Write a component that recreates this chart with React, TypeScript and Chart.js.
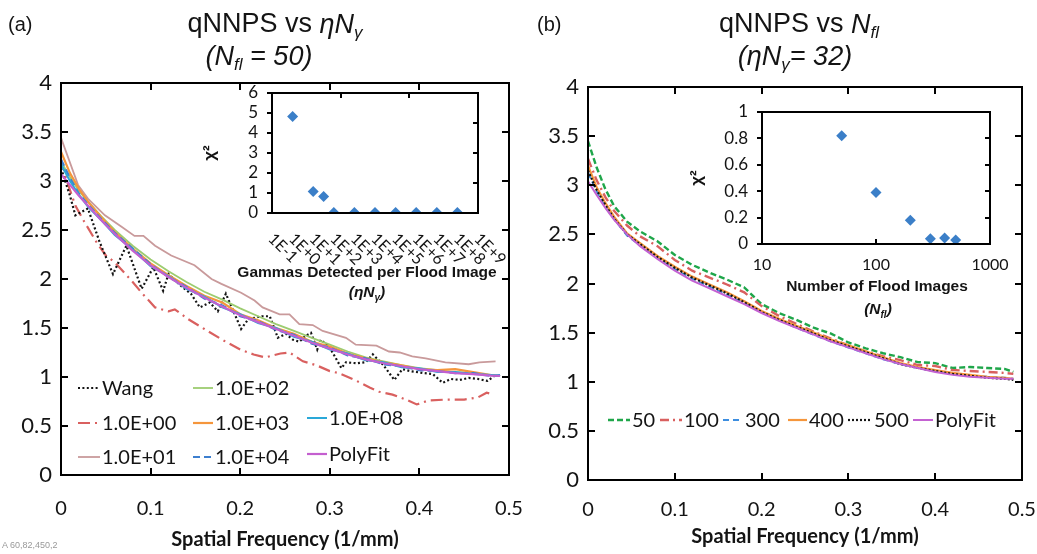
import React, { useEffect, useRef, useState } from 'react';
import { Chart, registerables } from 'chart.js';

Chart.register(...registerables);

// ---------------- Panel (a) data ----------------
const gridX = [0, 0.01, 0.02, 0.03, 0.045, 0.06, 0.08, 0.1, 0.12, 0.14, 0.16, 0.18, 0.2, 0.22, 0.24, 0.26, 0.28, 0.3, 0.32, 0.34, 0.36, 0.38, 0.4, 0.42, 0.44, 0.46, 0.48, 0.49];
const xTicks = [0, 0.1, 0.2, 0.3, 0.4, 0.5];

const wangX = [0, 0.01, 0.016, 0.03, 0.043, 0.058, 0.073, 0.09, 0.103, 0.114, 0.12, 0.134, 0.145, 0.155, 0.166, 0.175, 0.184, 0.201, 0.209, 0.224, 0.233, 0.242, 0.251, 0.259, 0.266, 0.273, 0.279, 0.286, 0.29, 0.3, 0.313, 0.318, 0.33, 0.34, 0.348, 0.36, 0.372, 0.381, 0.39, 0.405, 0.415, 0.426, 0.435, 0.445, 0.455, 0.465, 0.476, 0.485];
const wangY = [3.13, 2.85, 2.65, 2.72, 2.38, 2.05, 2.34, 1.9, 2.12, 1.88, 2.05, 1.93, 1.85, 1.71, 1.76, 1.67, 1.85, 1.49, 1.59, 1.62, 1.62, 1.4, 1.44, 1.38, 1.36, 1.42, 1.45, 1.28, 1.38, 1.3, 1.09, 1.15, 1.14, 1.15, 1.23, 1.12, 0.97, 1.08, 1.06, 1.04, 1.03, 0.94, 0.98, 0.97, 0.99, 0.98, 0.96, 1.02];

const e00X = [0, 0.008, 0.016, 0.025, 0.04, 0.05, 0.06, 0.08, 0.09, 0.105, 0.12, 0.127, 0.142, 0.16, 0.18, 0.2, 0.215, 0.228, 0.245, 0.255, 0.27, 0.285, 0.3, 0.31, 0.33, 0.345, 0.355, 0.37, 0.385, 0.397, 0.41, 0.43, 0.45, 0.465, 0.475, 0.483];
const e00Y = [3.22, 2.96, 2.75, 2.6, 2.37, 2.24, 2.17, 1.97, 1.86, 1.71, 1.67, 1.69, 1.59, 1.49, 1.38, 1.28, 1.23, 1.2, 1.24, 1.25, 1.16, 1.12, 1.06, 1.04, 0.96, 0.89, 0.85, 0.82, 0.77, 0.72, 0.76, 0.77, 0.77, 0.79, 0.84, 0.82];

const e01X = [0, 0.019, 0.03, 0.049, 0.068, 0.082, 0.092, 0.105, 0.123, 0.149, 0.168, 0.179, 0.201, 0.216, 0.225, 0.244, 0.255, 0.266, 0.281, 0.292, 0.318, 0.329, 0.352, 0.366, 0.378, 0.392, 0.407, 0.429, 0.455, 0.467, 0.485];
const e01Y = [3.44, 2.96, 2.82, 2.65, 2.53, 2.44, 2.44, 2.34, 2.24, 2.14, 2.0, 1.95, 1.86, 1.78, 1.71, 1.64, 1.64, 1.54, 1.53, 1.47, 1.4, 1.33, 1.32, 1.26, 1.25, 1.21, 1.19, 1.15, 1.13, 1.15, 1.16];

const e02Y = [3.2, 3.04, 2.9, 2.79, 2.64, 2.5, 2.34, 2.2, 2.08, 1.97, 1.87, 1.79, 1.7, 1.62, 1.54, 1.47, 1.4, 1.33, 1.26, 1.2, 1.16, 1.12, 1.09, 1.07, 1.05, 1.04, 1.02, 1.01];
const e03Y = [3.3, 3.08, 2.92, 2.79, 2.63, 2.48, 2.31, 2.16, 2.04, 1.93, 1.83, 1.76, 1.64, 1.58, 1.5, 1.44, 1.36, 1.31, 1.24, 1.19, 1.15, 1.12, 1.08, 1.07, 1.08, 1.05, 1.02, 1.01];
const e04Y = [3.22, 3.03, 2.87, 2.76, 2.61, 2.47, 2.31, 2.15, 2.02, 1.92, 1.8, 1.73, 1.62, 1.57, 1.48, 1.43, 1.34, 1.3, 1.22, 1.19, 1.13, 1.11, 1.07, 1.06, 1.04, 1.04, 1.01, 1.02];
const e08Y = [3.17, 3.0, 2.86, 2.74, 2.6, 2.45, 2.3, 2.13, 2.03, 1.9, 1.82, 1.71, 1.64, 1.55, 1.5, 1.41, 1.36, 1.28, 1.24, 1.17, 1.15, 1.1, 1.09, 1.05, 1.05, 1.03, 1.02, 1.01];
const polyAY = [3.07, 2.96, 2.85, 2.75, 2.6, 2.46, 2.29, 2.14, 2.02, 1.91, 1.81, 1.72, 1.63, 1.56, 1.49, 1.42, 1.35, 1.29, 1.23, 1.18, 1.14, 1.11, 1.08, 1.06, 1.04, 1.03, 1.015, 1.01];

// ---------------- Panel (b) data ----------------
const n50Y = [3.45, 3.18, 2.96, 2.79, 2.63, 2.53, 2.43, 2.29, 2.19, 2.11, 2.04, 1.96, 1.79, 1.7, 1.63, 1.55, 1.49, 1.4, 1.34, 1.29, 1.25, 1.2, 1.19, 1.14, 1.15, 1.14, 1.13, 1.1];
const n100Y = [3.27, 3.05, 2.88, 2.74, 2.59, 2.48, 2.38, 2.24, 2.13, 2.06, 1.99, 1.91, 1.77, 1.67, 1.59, 1.51, 1.44, 1.37, 1.31, 1.26, 1.22, 1.17, 1.16, 1.12, 1.11, 1.1, 1.09, 1.08];
const n300Y = [3.13, 2.94, 2.78, 2.66, 2.49, 2.39, 2.27, 2.15, 2.05, 1.97, 1.89, 1.8, 1.71, 1.63, 1.55, 1.48, 1.41, 1.35, 1.29, 1.23, 1.18, 1.14, 1.11, 1.08, 1.06, 1.05, 1.04, 1.03];
const n400Y = [3.2, 2.98, 2.82, 2.68, 2.51, 2.41, 2.28, 2.17, 2.07, 1.99, 1.91, 1.82, 1.72, 1.64, 1.57, 1.5, 1.43, 1.37, 1.31, 1.25, 1.19, 1.15, 1.12, 1.09, 1.07, 1.05, 1.04, 1.03];
const n500Y = [3.15, 2.95, 2.8, 2.66, 2.5, 2.4, 2.27, 2.16, 2.06, 1.98, 1.9, 1.81, 1.71, 1.63, 1.56, 1.49, 1.42, 1.36, 1.3, 1.24, 1.18, 1.14, 1.11, 1.08, 1.06, 1.04, 1.03, 1.02];
const polyBY = [3.04, 2.9, 2.77, 2.65, 2.5, 2.38, 2.25, 2.13, 2.03, 1.95, 1.87, 1.79, 1.7, 1.62, 1.55, 1.48, 1.41, 1.35, 1.29, 1.23, 1.18, 1.14, 1.1, 1.07, 1.05, 1.04, 1.03, 1.03];

// ---------------- Insets ----------------
const insetAX = [1, 10, 32, 100, 1e3, 1e4, 1e5, 1e6, 1e7, 1e8];
const insetAY = [4.83, 1.07, 0.82, 0.03, 0.02, 0.02, 0.02, 0.02, 0.02, 0.02];
const insetATicks = [0.1, 1, 10, 100, 1e3, 1e4, 1e5, 1e6, 1e7, 1e8, 1e9];
const insetBX = [50, 100, 200, 300, 400, 500];
const insetBY = [0.82, 0.39, 0.18, 0.04, 0.045, 0.03];
const insetBTicks = [10, 100, 1000];

// ---------------- Styles ----------------
const TXT = '#141414';
const ST = {
  wang: { c: '#141414', d: [2, 2.4], w: 2.2 },
  e00: { c: '#d9605f', d: [12, 5, 2, 5], w: 2.2 },
  e01: { c: '#c99a9b', d: [], w: 1.8 },
  e02: { c: '#9ccc70', d: [], w: 1.8 },
  e03: { c: '#f5963c', d: [], w: 2.2 },
  e04: { c: '#3d7fcf', d: [7, 4], w: 2.2 },
  e08: { c: '#2aa8d8', d: [], w: 2 },
  polyA: { c: '#c45fcf', d: [], w: 2.2 },
  n50: { c: '#1fa64a', d: [6, 3], w: 2.4 },
  n100: { c: '#d9605f', d: [9, 4, 2, 4], w: 2.4 },
  n300: { c: '#3d8ee0', d: [6, 4], w: 2.2 },
  n400: { c: '#f5963c', d: [], w: 2.2 },
  n500: { c: '#141414', d: [2, 2], w: 2.2 },
  polyB: { c: '#c462d2', d: [], w: 2 },
};

const pts = (xs: number[], ys: number[]) => xs.map((x, i) => ({ x, y: ys[i] }));
const fmtNum = (v: any) => String(Math.round(Number(v) * 100) / 100);
const setTicks = (vals: number[]) => (s: any) => { s.ticks = vals.map((v) => ({ value: v })); };
const zeroPad = (s: any) => { s.paddingLeft = 0; s.paddingRight = 0; s.paddingTop = 0; s.paddingBottom = 0; };
const noGrid = { display: false, drawTicks: false, drawOnChartArea: false };
const noBorder = { display: false };

function lineDs(label: string, xs: number[], ys: number[], s: { c: string; d: number[]; w: number }) {
  return {
    label,
    data: pts(xs, ys),
    borderColor: s.c,
    backgroundColor: s.c,
    borderWidth: s.w,
    borderDash: s.d.slice(),
    borderCapStyle: 'butt',
    pointRadius: 0,
    tension: 0,
    fill: false,
  };
}

type Seg = { t: string; it?: boolean; sub?: boolean };
function drawRich(ctx: CanvasRenderingContext2D, segs: Seg[], cx: number, cy: number, size: number, bold = false, italicAll = false) {
  ctx.save();
  ctx.textBaseline = 'middle';
  ctx.textAlign = 'left';
  ctx.fillStyle = TXT;
  const sub = Math.round(size * 0.62);
  const f = (s: Seg) => `${s.it || italicAll ? 'italic ' : ''}${bold ? 'bold ' : ''}${s.sub ? sub : size}px "Liberation Sans", Arial, sans-serif`;
  let total = 0;
  for (const s of segs) { ctx.font = f(s); total += ctx.measureText(s.t).width; }
  let x = cx - total / 2;
  for (const s of segs) {
    ctx.font = f(s);
    ctx.fillText(s.t, x, cy + (s.sub ? size * 0.32 : 0));
    x += ctx.measureText(s.t).width;
  }
  ctx.restore();
}

type LegItem = { text: string; s: { c: string; d: number[]; w: number }; x: number; y: number; len: number };
function drawLegend(ctx: CanvasRenderingContext2D, items: LegItem[], offX: number) {
  ctx.save();
  ctx.font = '20px Lato, "Open Sans", sans-serif';
  ctx.textBaseline = 'middle';
  ctx.textAlign = 'left';
  for (const it of items) {
    ctx.save();
    ctx.strokeStyle = it.s.c;
    ctx.lineWidth = it.s.w;
    ctx.setLineDash(it.s.d);
    ctx.beginPath();
    ctx.moveTo(it.x - offX, it.y);
    ctx.lineTo(it.x + it.len - offX, it.y);
    ctx.stroke();
    ctx.restore();
    ctx.fillStyle = TXT;
    ctx.fillText(it.text, it.x + it.len + 2 - offX, it.y + 1);
  }
  ctx.restore();
}

// ---- frame + tick marks, computed from each chart's own scales ----
type TickSpec = { side: 'left' | 'right' | 'top' | 'bottom'; at: number[]; len: number; out?: boolean; frac?: boolean };
type Rect = { l: number; t: number; w: number; h: number };
function frameRects(chart: any, specs: TickSpec[]): Rect[] {
  const a = chart.chartArea;
  const sx = chart.scales.x;
  const sy = chart.scales.y;
  const L = Math.round(a.left), R = Math.round(a.right);
  const T = Math.round(a.top), B = Math.round(a.bottom);
  const out: Rect[] = [
    { l: L - 1, t: T - 1, w: R - L + 2, h: 2 },
    { l: L - 1, t: B - 1, w: R - L + 2, h: 2 },
    { l: L - 1, t: T - 1, w: 2, h: B - T + 2 },
    { l: R - 1, t: T - 1, w: 2, h: B - T + 2 },
  ];
  for (const s of specs) {
    for (const v of s.at) {
      if (s.side === 'left' || s.side === 'right') {
        const y = Math.round(s.frac ? a.bottom - v * (a.bottom - a.top) : sy.getPixelForValue(v));
        const x0 = s.side === 'left' ? L : R;
        const inward = s.side === 'left' ? 1 : -1;
        const dir = s.out ? -inward : inward;
        out.push({ l: dir > 0 ? x0 : x0 - s.len, t: y - 1, w: s.len, h: 2 });
      } else {
        const x = Math.round(s.frac ? a.left + v * (a.right - a.left) : sx.getPixelForValue(v));
        const y0 = s.side === 'top' ? T : B;
        const inward = s.side === 'top' ? 1 : -1;
        const dir = s.out ? -inward : inward;
        out.push({ l: x - 1, t: dir > 0 ? y0 : y0 - s.len, w: 2, h: s.len });
      }
    }
  }
  return out;
}

// Plugin: white plot area first, then the frame rectangles on top of the datasets.
function framePlugin(specs: TickSpec[]) {
  return {
    id: 'frameMarks',
    beforeDatasetsDraw(chart: any) {
      const ctx: CanvasRenderingContext2D = chart.ctx;
      const a = chart.chartArea;
      ctx.save();
      ctx.fillStyle = '#ffffff';
      ctx.fillRect(a.left, a.top, a.right - a.left, a.bottom - a.top);
      ctx.restore();
    },
    afterDatasetsDraw(chart: any) {
      const ctx: CanvasRenderingContext2D = chart.ctx;
      ctx.save();
      ctx.globalAlpha = 1;
      ctx.fillStyle = 'rgb(0, 0, 0)';
      for (const r of frameRects(chart, specs)) ctx.fillRect(r.l, r.t, r.w, r.h);
      ctx.restore();
    },
  };
}

const yMainTicks = [0.5, 1, 1.5, 2, 2.5, 3, 3.5];
const xMainTicks = [0.1, 0.2, 0.3, 0.4];

function mainOptions(padTop: number, padRight: number, yWidth: number, xHeight: number, xPad: number, titlePadBottom: number) {
  return {
    animation: false,
    responsive: false,
    maintainAspectRatio: false,
    layout: { padding: { left: 0, top: padTop, right: padRight, bottom: 0 } },
    plugins: { legend: { display: false }, tooltip: { enabled: false }, title: { display: false } },
    scales: {
      x: {
        type: 'linear',
        position: 'bottom',
        min: 0,
        max: 0.5,
        afterBuildTicks: setTicks(xTicks),
        grid: noGrid,
        border: noBorder,
        ticks: { font: { family: 'Lato', size: 20 }, color: TXT, padding: xPad, maxRotation: 0, autoSkip: false, callback: fmtNum },
        title: {
          display: true,
          text: 'Spatial Frequency (1/mm)',
          color: TXT,
          font: { family: 'Lato', size: 20, weight: 'bold' },
          padding: { top: 0, bottom: titlePadBottom },
        },
        afterFit: (s: any) => { s.height = xHeight; zeroPad(s); },
      },
      y: {
        type: 'linear',
        position: 'left',
        min: 0,
        max: 4,
        grid: noGrid,
        border: noBorder,
        ticks: { stepSize: 0.5, autoSkip: false, font: { family: 'Lato', size: 22 }, color: TXT, padding: 9, callback: fmtNum },
        afterFit: (s: any) => { s.width = yWidth; zeroPad(s); },
      },
    },
  };
}

const mainSpecs: TickSpec[] = [
  { side: 'left', at: yMainTicks, len: 7 },
  { side: 'right', at: yMainTicks, len: 7 },
  { side: 'top', at: xMainTicks, len: 7 },
  { side: 'bottom', at: xMainTicks, len: 7 },
];
const insetASpecs: TickSpec[] = [
  { side: 'left', at: [0, 1, 2, 3, 4, 5, 6], len: 5, out: true },
  { side: 'right', at: [0.25, 0.5, 0.75], len: 5, frac: true },
  { side: 'top', at: [1 / 3, 2 / 3], len: 5, frac: true },
];
const insetBSpecs: TickSpec[] = [
  { side: 'left', at: [0, 0.2, 0.4, 0.6, 0.8, 1], len: 5, out: true },
  { side: 'right', at: [0.2, 0.4, 0.6, 0.8], len: 5 },
  { side: 'bottom', at: [100], len: 5 },
];

function configA() {
  const legend: LegItem[] = [
    { text: 'Wang', s: ST.wang, x: 78, y: 388, len: 22 },
    { text: '1.0E+00', s: ST.e00, x: 78, y: 423, len: 22 },
    { text: '1.0E+01', s: ST.e01, x: 78, y: 457, len: 22 },
    { text: '1.0E+02', s: ST.e02, x: 193, y: 388, len: 20 },
    { text: '1.0E+03', s: ST.e03, x: 193, y: 423, len: 20 },
    { text: '1.0E+04', s: ST.e04, x: 193, y: 457, len: 20 },
    { text: '1.0E+08', s: ST.e08, x: 307, y: 418, len: 20 },
    { text: 'PolyFit', s: ST.polyA, x: 307, y: 454, len: 20 },
  ];
  return {
    type: 'line',
    data: {
      datasets: [
        lineDs('PolyFit', gridX, polyAY, ST.polyA),
        lineDs('1.0E+08', gridX, e08Y, ST.e08),
        lineDs('1.0E+04', gridX, e04Y, ST.e04),
        lineDs('1.0E+03', gridX, e03Y, ST.e03),
        lineDs('1.0E+02', gridX, e02Y, ST.e02),
        lineDs('Wang', wangX, wangY, ST.wang),
        lineDs('1.0E+00', e00X, e00Y, ST.e00),
        lineDs('1.0E+01', e01X, e01Y, ST.e01),
      ],
    },
    options: mainOptions(83, 16, 61, 79, 22, 2),
    plugins: [
      framePlugin(mainSpecs),
      {
        id: 'decoA',
        afterDraw(chart: any) {
          const ctx = chart.ctx;
          drawLegend(ctx, legend, 0);
          ctx.save();
          ctx.fillStyle = TXT;
          ctx.font = '20px "Liberation Sans", Arial, sans-serif';
          ctx.textBaseline = 'middle';
          ctx.fillText('(a)', 8, 25);
          ctx.restore();
          drawRich(ctx, [{ t: 'qNNPS vs ' }, { t: 'ηN', it: true }, { t: 'γ', it: true, sub: true }], 275, 25, 27);
          drawRich(ctx, [{ t: '(N' }, { t: 'fl', sub: true }, { t: ' = 50)' }], 259, 57, 27, false, true);
        },
      },
    ],
  };
}

function configB() {
  const off = 525;
  const legend: LegItem[] = [
    { text: '50', s: ST.n50, x: 608, y: 420, len: 22 },
    { text: '100', s: ST.n100, x: 660, y: 420, len: 22 },
    { text: '300', s: ST.n300, x: 723, y: 420, len: 20 },
    { text: '400', s: ST.n400, x: 788, y: 420, len: 19 },
    { text: '500', s: ST.n500, x: 848, y: 420, len: 24 },
    { text: 'PolyFit', s: ST.polyB, x: 913, y: 420, len: 20 },
  ];
  return {
    type: 'line',
    data: {
      datasets: [
        lineDs('PolyFit', gridX, polyBY, ST.polyB),
        lineDs('500', gridX, n500Y, ST.n500),
        lineDs('400', gridX, n400Y, ST.n400),
        lineDs('300', gridX, n300Y, ST.n300),
        lineDs('100', gridX, n100Y, ST.n100),
        lineDs('50', gridX, n50Y, ST.n50),
      ],
    },
    options: mainOptions(87, 15, 63, 74, 18, 5),
    plugins: [
      framePlugin(mainSpecs),
      {
        id: 'decoB',
        afterDraw(chart: any) {
          const ctx = chart.ctx;
          drawLegend(ctx, legend, off);
          ctx.save();
          ctx.fillStyle = TXT;
          ctx.font = '20px "Liberation Sans", Arial, sans-serif';
          ctx.textBaseline = 'middle';
          ctx.fillText('(b)', 537 - off, 25);
          ctx.restore();
          drawRich(ctx, [{ t: 'qNNPS vs ' }, { t: 'N', it: true }, { t: 'fl', it: true, sub: true }], 799 - off, 25, 27);
          drawRich(ctx, [{ t: '(ηN' }, { t: 'γ', sub: true }, { t: '= 32)' }], 795 - off, 57, 27, false, true);
        },
      },
    ],
  };
}

const diamond = (xs: number[], ys: number[]) => ({
  data: pts(xs, ys),
  showLine: false,
  pointStyle: 'rectRot',
  pointRadius: 5.5,
  pointBackgroundColor: '#3b7fc8',
  pointBorderColor: '#3b7fc8',
  pointBorderWidth: 0,
});

const expLabel = (v: number) => {
  const k = Math.round(Math.log10(v));
  return '1E' + (k < 0 ? '-' : '+') + Math.abs(k);
};

const chiTitle = (pad: number) => ({
  display: true,
  text: 'χ²',
  color: TXT,
  font: { family: '"Liberation Sans", Arial', size: 17, weight: 'bold' },
  padding: { top: pad, bottom: 0 },
});

function configInsetA() {
  const offX = 190, offY = 80;
  return {
    type: 'scatter',
    data: { datasets: [diamond(insetAX, insetAY)] },
    options: {
      animation: false,
      responsive: false,
      maintainAspectRatio: false,
      layout: { padding: { left: 0, top: 13, right: 42, bottom: 0 } },
      plugins: { legend: { display: false }, tooltip: { enabled: false } },
      scales: {
        x: {
          type: 'logarithmic', position: 'bottom', min: 0.1, max: 1e9,
          afterBuildTicks: setTicks(insetATicks),
          grid: noGrid, border: noBorder, ticks: { display: false },
          afterFit: (s: any) => { s.height = 97; zeroPad(s); },
        },
        y: {
          type: 'linear', position: 'left', min: 0, max: 6,
          grid: noGrid, border: noBorder,
          ticks: { stepSize: 1, autoSkip: false, font: { family: 'Lato', size: 17 }, color: TXT, padding: 14, callback: fmtNum },
          title: chiTitle(10),
          afterFit: (s: any) => { s.width = 82; zeroPad(s); },
        },
      },
    },
    plugins: [
      framePlugin(insetASpecs),
      {
        id: 'decoIA',
        afterDraw(chart: any) {
          const ctx = chart.ctx;
          const a = chart.chartArea;
          ctx.save();
          ctx.fillStyle = TXT;
          ctx.font = '16px Lato, sans-serif';
          ctx.textAlign = 'left';
          ctx.textBaseline = 'middle';
          for (const v of insetATicks) {
            const px = chart.scales.x.getPixelForValue(v);
            ctx.save();
            ctx.translate(px - 1, a.bottom + 23);
            ctx.rotate(Math.PI / 4);
            ctx.fillText(expLabel(v), 0, 0);
            ctx.restore();
          }
          ctx.restore();
          ctx.save();
          ctx.fillStyle = TXT;
          ctx.font = 'bold 15.5px "Liberation Sans", Arial, sans-serif';
          ctx.textAlign = 'center';
          ctx.textBaseline = 'middle';
          ctx.fillText('Gammas Detected per Flood Image', 367 - offX, 273 - offY);
          ctx.restore();
          drawRich(ctx, [{ t: '(ηN' }, { t: 'γ', sub: true }, { t: ')' }], 367 - offX, 293 - offY, 15.5, true, true);
        },
      },
    ],
  };
}

function configInsetB() {
  const offX = 680, offY = 95;
  return {
    type: 'scatter',
    data: { datasets: [diamond(insetBX, insetBY)] },
    options: {
      animation: false,
      responsive: false,
      maintainAspectRatio: false,
      layout: { padding: { left: 0, top: 17, right: 30, bottom: 0 } },
      plugins: { legend: { display: false }, tooltip: { enabled: false } },
      scales: {
        x: {
          type: 'logarithmic', position: 'bottom', min: 10, max: 1000,
          afterBuildTicks: setTicks(insetBTicks),
          grid: noGrid, border: noBorder,
          ticks: { font: { family: 'Lato', size: 16 }, color: TXT, padding: 11, maxRotation: 0, autoSkip: false, callback: (v: any) => String(v) },
          afterFit: (s: any) => { s.height = 81; zeroPad(s); },
        },
        y: {
          type: 'linear', position: 'left', min: 0, max: 1,
          grid: noGrid, border: noBorder,
          ticks: { stepSize: 0.2, autoSkip: false, font: { family: 'Lato', size: 17 }, color: TXT, padding: 14, callback: fmtNum },
          title: chiTitle(7),
          afterFit: (s: any) => { s.width = 82; zeroPad(s); },
        },
      },
    },
    plugins: [
      framePlugin(insetBSpecs),
      {
        id: 'decoIB',
        afterDraw(chart: any) {
          const ctx = chart.ctx;
          ctx.save();
          ctx.fillStyle = TXT;
          ctx.font = 'bold 15.5px "Liberation Sans", Arial, sans-serif';
          ctx.textAlign = 'center';
          ctx.textBaseline = 'middle';
          ctx.fillText('Number of Flood Images', 877 - offX, 287 - offY);
          ctx.restore();
          drawRich(ctx, [{ t: '(N' }, { t: 'fl', sub: true }, { t: ')' }], 878 - offX, 310 - offY, 15.5, true, true);
        },
      },
    ],
  };
}

export default function App() {
  const aRef = useRef<HTMLCanvasElement>(null);
  const aiRef = useRef<HTMLCanvasElement>(null);
  const bRef = useRef<HTMLCanvasElement>(null);
  const biRef = useRef<HTMLCanvasElement>(null);
  const [dbg, setDbg] = useState('');

  useEffect(() => {
    const cA = new Chart(aRef.current as HTMLCanvasElement, configA() as any);
    const cAI = new Chart(aiRef.current as HTMLCanvasElement, configInsetA() as any);
    const cB = new Chart(bRef.current as HTMLCanvasElement, configB() as any);
    const cBI = new Chart(biRef.current as HTMLCanvasElement, configInsetB() as any);
    const r = frameRects(cA, mainSpecs)[0];
    setDbg(`A ${r.l},${r.t},${r.w},${r.h}`);
    return () => { cA.destroy(); cAI.destroy(); cB.destroy(); cBI.destroy(); };
  }, []);

  const abs = (l: number, t: number, w: number, h: number) => ({ position: 'absolute' as const, left: l, top: t, width: w, height: h });

  return (
    <div style={{ position: 'absolute', left: 0, top: 0, width: 1037, height: 554, background: '#fff', overflow: 'hidden' }}>
      <canvas ref={aRef} width={525} height={554} style={abs(0, 0, 525, 554)} />
      <canvas ref={aiRef} width={330} height={230} style={abs(190, 80, 330, 230)} />
      <canvas ref={bRef} width={512} height={554} style={abs(525, 0, 512, 554)} />
      <canvas ref={biRef} width={340} height={230} style={abs(680, 95, 340, 230)} />
      <div style={{ position: 'absolute', left: 2, top: 540, fontSize: 9, color: '#999', fontFamily: 'sans-serif' }}>{dbg}</div>
    </div>
  );
}
